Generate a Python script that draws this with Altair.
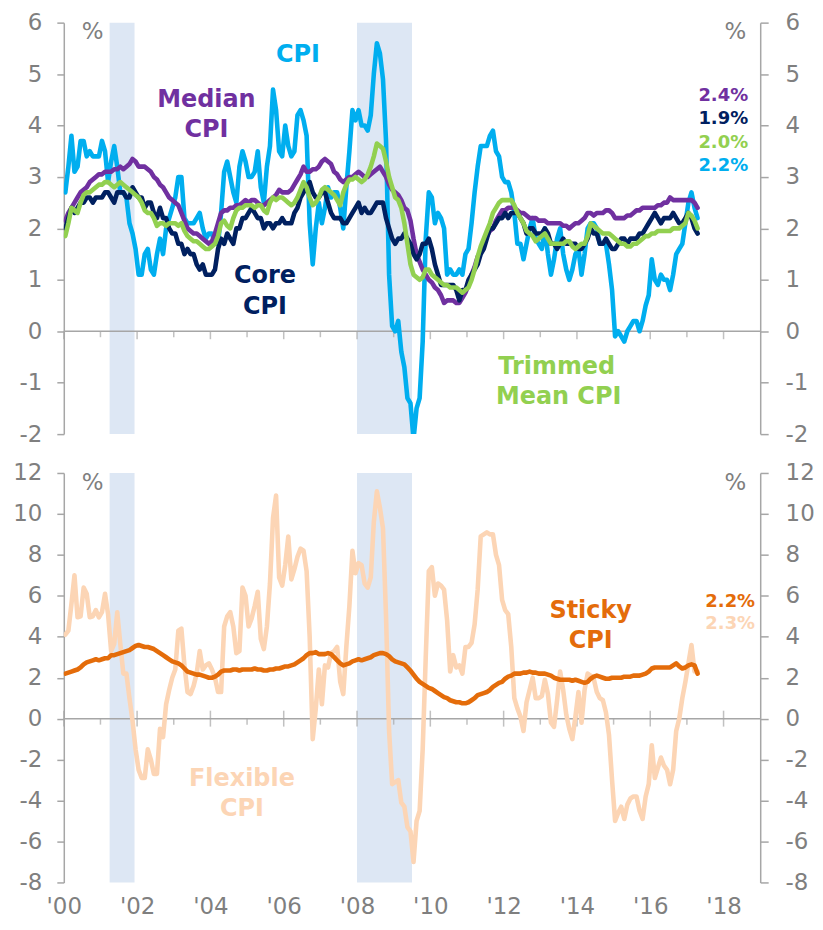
import altair as alt
import pandas as pd

# ---------------- data (monthly, Jan 2000 - Apr 2017, year-over-year %) ----------------
cpi = [
    2.7, 3.2, 3.8, 3.1, 3.2, 3.7, 3.7, 3.4, 3.5, 3.4, 3.4, 3.4,
    3.7, 3.5, 2.9, 3.3, 3.6, 3.2, 2.7, 2.7, 2.6, 2.1, 1.9, 1.6,
    1.1, 1.1, 1.5, 1.6, 1.2, 1.1, 1.5, 1.8, 1.5, 2.0, 2.2, 2.4,
    2.6, 3.0, 3.0, 2.2, 2.1, 2.1, 2.1, 2.2, 2.3, 2.0, 1.8, 1.9,
    1.9, 1.7, 1.7, 2.3, 3.1, 3.3, 3.0, 2.7, 2.5, 3.2, 3.5, 3.3,
    3.0, 3.0, 3.1, 3.5, 2.8, 2.5, 3.2, 3.6, 4.7, 4.3, 3.5, 3.4,
    4.0, 3.6, 3.4, 3.5, 4.2, 4.3, 4.1, 3.8, 2.1, 1.3, 2.0, 2.5,
    2.1, 2.4, 2.8, 2.6, 2.7, 2.7, 2.4, 2.0, 2.8, 3.5, 4.3, 4.1,
    4.3, 4.0, 4.0, 3.9, 4.2, 5.0, 5.6, 5.4, 4.9, 3.7, 1.1, 0.1,
    0.0, 0.2, -0.4, -0.7, -1.3, -1.4, -2.1, -1.5, -1.3, -0.2, 1.8, 2.7,
    2.6, 2.1, 2.3, 2.2, 2.0, 1.1, 1.2, 1.1, 1.1, 1.2, 1.1, 1.5,
    1.6, 2.1, 2.7, 3.2, 3.6, 3.6, 3.6, 3.8, 3.9, 3.5, 3.4, 3.0,
    2.9, 2.9, 2.7, 2.3, 1.7, 1.7, 1.4, 1.7, 2.0, 2.2, 1.8, 1.7,
    1.6, 2.0, 1.5, 1.1, 1.4, 1.8, 2.0, 1.5, 1.2, 1.0, 1.2, 1.5,
    1.6, 1.1, 1.5, 2.0, 2.1, 2.1, 2.0, 1.7, 1.7, 1.7, 1.3, 0.8,
    -0.1, 0.0, -0.1, -0.2, 0.0, 0.1, 0.2, 0.2, 0.0, 0.2, 0.5, 0.7,
    1.4, 1.0, 0.9, 1.1, 1.0, 1.0, 0.8, 1.1, 1.5, 1.6, 1.7, 2.1,
    2.5, 2.7, 2.4, 2.2,
]
core = [
    2.0, 2.2, 2.4, 2.3, 2.4, 2.5, 2.5, 2.6, 2.6, 2.5, 2.6, 2.6,
    2.6, 2.7, 2.7, 2.6, 2.5, 2.7, 2.7, 2.7, 2.6, 2.6, 2.8, 2.7,
    2.6, 2.6, 2.4, 2.5, 2.5, 2.3, 2.2, 2.4, 2.2, 2.2, 2.0, 1.9,
    1.9, 1.7, 1.7, 1.5, 1.6, 1.5, 1.5, 1.3, 1.2, 1.3, 1.1, 1.1,
    1.1, 1.2, 1.6, 1.8, 1.7, 1.9, 1.8, 1.7, 2.0, 2.0, 2.2, 2.2,
    2.3, 2.4, 2.3, 2.2, 2.2, 2.0, 2.1, 2.1, 2.0, 2.1, 2.1, 2.2,
    2.1, 2.1, 2.1, 2.3, 2.4, 2.6, 2.7, 2.8, 2.9, 2.7, 2.6, 2.6,
    2.7, 2.7, 2.5, 2.3, 2.2, 2.2, 2.2, 2.1, 2.1, 2.2, 2.3, 2.4,
    2.5, 2.3, 2.4, 2.3, 2.3, 2.4, 2.5, 2.5, 2.5, 2.2, 2.0, 1.8,
    1.7, 1.8, 1.8, 1.9, 1.8, 1.7, 1.5, 1.4, 1.5, 1.7, 1.7, 1.8,
    1.6, 1.3, 1.1, 0.9, 0.9, 0.9, 0.9, 0.9, 0.8, 0.6, 0.8, 0.8,
    1.0, 1.1, 1.2, 1.3, 1.5, 1.6, 1.8, 2.0, 2.0, 2.1, 2.2, 2.2,
    2.3, 2.2, 2.3, 2.3, 2.3, 2.2, 2.1, 1.9, 2.0, 2.0, 1.9, 1.9,
    1.9, 2.0, 1.9, 1.7, 1.7, 1.6, 1.7, 1.8, 1.7, 1.7, 1.7, 1.7,
    1.6, 1.6, 1.7, 1.8, 2.0, 1.9, 1.9, 1.7, 1.7, 1.8, 1.7, 1.6,
    1.6, 1.7, 1.8, 1.8, 1.7, 1.8, 1.8, 1.8, 1.9, 1.9, 2.0, 2.1,
    2.2, 2.3, 2.2, 2.1, 2.2, 2.2, 2.2, 2.3, 2.2, 2.1, 2.1, 2.2,
    2.3, 2.2, 2.0, 1.9,
]
median = [
    2.15, 2.3, 2.4, 2.5, 2.6, 2.7, 2.75, 2.8, 2.9, 2.95, 3.0, 3.05,
    3.05, 3.1, 3.1, 3.1, 3.15, 3.15, 3.2, 3.15, 3.2, 3.25, 3.35, 3.3,
    3.2, 3.2, 3.2, 3.15, 3.1, 3.0, 2.95, 2.85, 2.8, 2.7, 2.6, 2.55,
    2.5, 2.45, 2.3, 2.15, 2.0, 1.95, 1.9, 1.9, 1.85, 1.8, 1.75, 1.7,
    1.75, 1.9, 2.1, 2.3, 2.35, 2.35, 2.4, 2.4, 2.45, 2.45, 2.5, 2.55,
    2.5, 2.55, 2.55, 2.5, 2.45, 2.45, 2.5, 2.55, 2.6, 2.65, 2.75, 2.7,
    2.7, 2.7, 2.75, 2.85, 2.95, 3.05, 3.2, 3.1, 3.1, 3.15, 3.15, 3.2,
    3.3, 3.35, 3.3, 3.25, 3.1, 3.05, 2.95, 2.9, 2.95, 3.0, 3.0, 3.05,
    3.1, 3.05, 3.0, 3.0, 3.05, 3.1, 3.15, 3.2, 3.1, 3.0, 2.85, 2.75,
    2.7, 2.65, 2.55, 2.4, 2.35, 2.15, 1.8, 1.5, 1.35, 1.2, 1.1, 1.0,
    0.95, 0.85, 0.8, 0.7, 0.55, 0.6, 0.6, 0.6, 0.55, 0.55, 0.65, 0.75,
    0.9, 1.1, 1.25, 1.45, 1.55, 1.7, 1.85, 1.95, 2.0, 2.15, 2.25, 2.35,
    2.35, 2.4, 2.4, 2.4, 2.35, 2.3, 2.3, 2.25, 2.2, 2.2, 2.2, 2.15,
    2.15, 2.15, 2.1, 2.1, 2.1, 2.1, 2.1, 2.05, 2.05, 2.0, 2.05, 2.1,
    2.1, 2.15, 2.2, 2.3, 2.3, 2.25, 2.3, 2.3, 2.3, 2.35, 2.35, 2.3,
    2.2, 2.2, 2.2, 2.2, 2.25, 2.25, 2.3, 2.35, 2.35, 2.4, 2.4, 2.4,
    2.4, 2.4, 2.45, 2.45, 2.5, 2.5, 2.6, 2.55, 2.55, 2.55, 2.55, 2.55,
    2.55, 2.55, 2.5, 2.4,
]
trimmed = [
    1.85, 2.1, 2.4, 2.35, 2.3, 2.5, 2.65, 2.7, 2.7, 2.75, 2.8, 2.85,
    2.85, 2.9, 2.9, 2.85, 2.8, 2.85, 2.9, 2.85, 2.8, 2.75, 2.7, 2.65,
    2.6, 2.5, 2.35, 2.3, 2.3, 2.2, 2.05, 2.1, 2.1, 2.05, 2.1, 2.1,
    2.1, 2.05, 2.1, 1.95, 1.85, 1.8, 1.75, 1.75, 1.7, 1.65, 1.6, 1.6,
    1.65, 1.7, 1.85, 2.1, 2.15, 2.05, 2.0, 2.2, 2.35, 2.4, 2.4, 2.45,
    2.45, 2.45, 2.4, 2.45, 2.45, 2.35, 2.3, 2.5, 2.6, 2.55, 2.6, 2.6,
    2.55, 2.5, 2.45, 2.5, 2.6, 2.75, 2.9, 2.8, 2.6, 2.45, 2.5, 2.6,
    2.75, 2.8, 2.75, 2.7, 2.65, 2.55, 2.45, 2.7, 2.85, 2.95, 2.95, 3.0,
    2.95, 2.9, 2.95, 3.05, 3.2, 3.4, 3.65, 3.6, 3.55, 3.3, 3.0, 2.8,
    2.6, 2.55, 2.4, 2.1, 1.7, 1.3, 1.1, 1.05, 1.0, 1.05, 1.2, 1.2,
    1.1, 1.05, 1.0, 0.95, 0.9, 0.9, 0.85, 0.85, 0.85, 0.8, 0.75, 0.8,
    0.85, 1.0, 1.2, 1.45, 1.65, 1.8, 1.95, 2.1, 2.3, 2.4, 2.5, 2.55,
    2.55, 2.55, 2.55, 2.45, 2.3, 2.2, 2.1, 1.95, 1.9, 1.85, 1.75, 1.8,
    1.85, 1.9, 1.8, 1.7, 1.7, 1.7, 1.7, 1.7, 1.75, 1.75, 1.65, 1.6,
    1.65, 1.7, 1.7, 1.85, 2.1, 2.05, 2.0, 1.95, 1.9, 1.9, 1.9, 1.85,
    1.8, 1.75, 1.7, 1.7, 1.65, 1.65, 1.7, 1.7, 1.75, 1.8, 1.85, 1.85,
    1.9, 1.9, 1.95, 1.95, 1.95, 1.95, 1.95, 2.0, 2.0, 2.0, 2.05, 2.1,
    2.3, 2.25, 2.15, 2.0,
]
sticky = [
    2.2, 2.25, 2.3, 2.35, 2.4, 2.5, 2.65, 2.75, 2.8, 2.85, 2.9, 2.85,
    2.9, 2.95, 2.95, 3.1, 3.1, 3.15, 3.2, 3.25, 3.3, 3.35, 3.45, 3.55,
    3.6, 3.55, 3.5, 3.5, 3.45, 3.4, 3.3, 3.2, 3.1, 3.0, 2.9, 2.8,
    2.75, 2.7, 2.6, 2.45, 2.3, 2.25, 2.2, 2.15, 2.15, 2.1, 2.05, 2.0,
    2.0, 2.05, 2.15, 2.3, 2.35, 2.35, 2.35, 2.4, 2.4, 2.35, 2.4, 2.4,
    2.4, 2.4, 2.45, 2.4, 2.4, 2.35, 2.35, 2.4, 2.4, 2.45, 2.45, 2.5,
    2.55, 2.55, 2.6, 2.65, 2.75, 2.85, 2.95, 3.1, 3.2, 3.2, 3.25, 3.15,
    3.15, 3.15, 3.2, 3.15, 3.0, 2.85, 2.7, 2.6, 2.65, 2.7, 2.8, 2.85,
    2.9, 2.85, 2.9, 2.95, 3.0, 3.1, 3.15, 3.2, 3.2, 3.15, 3.05, 2.9,
    2.8, 2.75, 2.7, 2.65, 2.5, 2.35, 2.15, 1.95, 1.8, 1.7, 1.6, 1.5,
    1.45, 1.35, 1.25, 1.15, 1.05, 1.0, 0.9, 0.85, 0.8, 0.8, 0.75, 0.75,
    0.8, 0.9, 1.0, 1.15, 1.2, 1.25, 1.3, 1.4, 1.55, 1.65, 1.75, 1.8,
    1.95, 2.05, 2.1, 2.2, 2.2, 2.2, 2.25, 2.25, 2.3, 2.25, 2.25, 2.2,
    2.2, 2.2, 2.15, 2.1, 2.0, 1.95, 1.9, 1.9, 1.9, 1.9, 1.85, 1.9,
    1.85, 1.8, 1.75, 1.8, 1.95, 2.05, 2.1, 2.05, 2.0, 1.95, 1.95, 2.0,
    2.0, 2.0, 2.0, 2.05, 2.05, 2.05, 2.1, 2.1, 2.1, 2.15, 2.2, 2.3,
    2.45, 2.5, 2.5, 2.5, 2.5, 2.5, 2.5, 2.6, 2.7, 2.55, 2.45, 2.5,
    2.6, 2.65, 2.6, 2.2,
]
flexible = [
    4.1, 4.3, 5.6, 7.0, 4.95, 5.0, 6.4, 6.1, 4.95, 5.0, 5.3, 4.95,
    5.2, 6.1, 5.1, 3.3, 3.65, 5.2, 3.65, 2.2, 2.2, 1.0, -0.1, -1.5,
    -2.5, -2.9, -2.9, -1.5, -2.0, -2.7, -2.7, -0.5, -0.9, 0.7, 1.4, 2.0,
    2.4, 4.3, 4.4, 2.6, 1.3, 1.2, 1.6, 2.2, 3.3, 2.4, 2.6, 2.7,
    2.4, 2.0, 1.3, 1.3, 4.5, 5.0, 5.2, 4.5, 3.2, 3.3, 6.4, 6.0,
    4.5, 4.9, 5.5, 6.2, 3.9, 3.4, 4.5, 6.6, 9.8, 10.9, 6.9, 6.5,
    7.5, 8.9, 6.8, 7.3, 7.9, 8.3, 8.2, 7.2, 4.0, -1.0, 0.5, 2.4,
    0.7, 2.6, 2.5, 3.2, 3.3, 3.5, 1.8, 1.2, 3.5, 5.5, 8.2, 7.1,
    7.6, 7.5, 6.6, 6.4, 6.9, 9.6, 11.1, 10.3, 9.3, 5.0, -0.6, -3.2,
    -3.1, -3.0, -4.1, -4.3, -5.3, -5.5, -7.0, -5.0, -4.5, -1.5, 3.0, 7.2,
    7.4, 6.0, 6.6, 6.5, 6.3, 4.8, 2.3, 3.1, 2.5, 2.6, 2.2, 3.5,
    3.5, 3.7, 4.6, 6.3, 8.9, 9.0, 9.1, 9.0, 9.0, 8.0, 7.5, 5.8,
    5.3, 5.1, 3.5, 1.0, 0.5, 0.1, -0.6, 0.8, 1.4, 2.0, 1.0, 1.0,
    1.1, 1.9, 1.2, -0.2, -0.4, 0.9, 2.3, 1.4, 0.2, -0.5, -1.0, 0.1,
    1.3, -0.2, 1.4, 2.2, 2.1, 1.95, 1.3, 1.0, 0.9, 0.3, -0.8, -3.0,
    -5.0, -4.6, -4.3, -4.9, -4.2, -3.9, -3.8, -3.8, -4.5, -4.9, -3.8, -3.2,
    -1.3, -2.9, -2.4, -1.9, -2.3, -2.5, -3.2, -2.5, -0.6, 0.0, 1.0, 1.8,
    2.7, 3.6, 2.3, 2.3,
]

rec_start = [2001.25, 2008.0]
rec_end = [2001.93, 2009.5]
even_years = list(range(2000, 2019, 2))
odd_years = list(range(2001, 2018, 2))

# ---------------- styling ----------------
FONT = "DejaVu Sans"
GREY_LINE = "#A6A6A6"
GREY_TEXT = "#7F7F7F"
C_CPI = "#00AEEF"
C_MED = "#7030A0"
C_CORE = "#002060"
C_TRIM = "#92D050"
C_STICKY = "#E46C0A"
C_FLEX = "#FCD5B5"
C_REC = "#DDE7F4"
LW = 4.6

W = 699
H_TOP = 413
H_BOT = 411

xs = alt.Scale(domain=[2000, 2019], nice=False, zero=False)


def monthly(values):
    return pd.DataFrame({"t": [2000 + (i + 0.5) / 12 for i in range(len(values))], "v": values})


def y_axis(orient, vals):
    common = dict(values=vals, title=None, grid=False, labelExpr="toString(datum.value)")
    if orient == "left":
        return alt.Axis(orient="left", tickSize=7, labelPadding=15, **common)
    return alt.Axis(orient="right", tickSize=8, labelPadding=17, **common)


def make_panel(ys, cross_major, x_axis):
    def Xq(field):
        return alt.X(field, type="quantitative", scale=xs, axis=x_axis)

    def Yq(field, axis=None):
        return alt.Y(field, type="quantitative", scale=ys, axis=axis)

    def base_layers():
        rec = alt.Chart(pd.DataFrame({"s": rec_start, "e": rec_end})).mark_rect(color=C_REC).encode(
            x=Xq("s"), x2="e"
        )
        zero = alt.Chart(pd.DataFrame({"z": [0]})).mark_rule(color=GREY_LINE, strokeWidth=1.5).encode(
            y=Yq("z")
        )
        maj = alt.Chart(pd.DataFrame({"yr": even_years, "z": [0] * len(even_years)})).mark_tick(
            orient="vertical", size=16 if cross_major else 8, thickness=1.5,
            yOffset=0 if cross_major else 4, color=GREY_LINE
        ).encode(x=Xq("yr"), y=Yq("z"))
        mnr = alt.Chart(pd.DataFrame({"yr": odd_years, "z": [0] * len(odd_years)})).mark_tick(
            orient="vertical", size=6, thickness=1.5, yOffset=3, color=GREY_LINE
        ).encode(x=Xq("yr"), y=Yq("z"))
        return [rec, zero, maj, mnr]

    def line(values, color, axis=None):
        return alt.Chart(monthly(values)).mark_line(
            color=color, strokeWidth=LW, clip=True, strokeJoin="round", strokeCap="round"
        ).encode(x=Xq("t"), y=Yq("v", axis))

    def texts(txt, xv, yv, color, size=24, bold=True, align="center"):
        df = pd.DataFrame({"text": txt, "x": xv, "y": yv})
        return alt.Chart(df).mark_text(
            font=FONT, fontSize=size, fontWeight="bold" if bold else "normal",
            color=color, align=align, baseline="middle"
        ).encode(x=Xq("x"), y=Yq("y"), text="text:N")

    return base_layers, line, texts


# ---------------- top panel ----------------
ys_top = alt.Scale(domain=[-2, 6], nice=False, zero=False)
top_vals = list(range(-2, 7))
base_t, line_t, text_t = make_panel(ys_top, False, None)

top = alt.layer(
    *base_t(),
    line_t(cpi, C_CPI, y_axis("left", top_vals)),
    line_t(median, C_MED, y_axis("right", top_vals)),
    line_t(core, C_CORE),
    line_t(trimmed, C_TRIM),
    text_t(["CPI"], [2006.39], [5.37], C_CPI),
    text_t(["Median", "CPI"], [2003.89, 2003.89], [4.50, 3.91], C_MED),
    text_t(["Core", "CPI"], [2005.49, 2005.49], [1.07, 0.48], C_CORE),
    text_t(["Trimmed", "Mean CPI"], [2013.45, 2013.5], [-0.70, -1.28], C_TRIM),
    text_t(["2.4%"], [2018.67], [4.57], C_MED, size=18, align="right"),
    text_t(["1.9%"], [2018.67], [4.13], C_CORE, size=18, align="right"),
    text_t(["2.0%"], [2018.67], [3.66], C_TRIM, size=18, align="right"),
    text_t(["2.2%"], [2018.67], [3.22], C_CPI, size=18, align="right"),
    text_t(["%", "%"], [2000.79, 2018.32], [5.81, 5.81], GREY_TEXT, size=23, bold=False),
).resolve_axis(y="independent").properties(width=W, height=H_TOP)

# ---------------- bottom panel ----------------
ys_bot = alt.Scale(domain=[-8, 12], nice=False, zero=False)
bot_vals = list(range(-8, 13, 2))

x_axis = alt.Axis(
    orient="bottom", values=even_years,
    labelExpr="\"'\" + format(datum.value % 100, '02d')",
    domain=False, ticks=False, labelPadding=13, labelFlush=False, labelOverlap=False,
    title=None, grid=False,
)
base_b, line_b, text_b = make_panel(ys_bot, True, x_axis)

bot = alt.layer(
    *base_b(),
    line_b(flexible, C_FLEX, y_axis("left", bot_vals)),
    line_b(sticky, C_STICKY, y_axis("right", bot_vals)),
    text_b(["Sticky", "CPI"], [2014.375, 2014.375], [5.26, 3.80], C_STICKY),
    text_b(["Flexible", "CPI"], [2004.86, 2004.86], [-2.97, -4.43], C_FLEX),
    text_b(["2.2%"], [2018.86], [5.69], C_STICKY, size=18, align="right"),
    text_b(["2.3%"], [2018.86], [4.62], C_FLEX, size=18, align="right"),
    text_b(["%", "%"], [2000.79, 2018.32], [11.53, 11.53], GREY_TEXT, size=23, bold=False),
).resolve_axis(y="independent").properties(width=W, height=H_BOT)

chart = alt.vconcat(top, bot, spacing=39, bounds="flush").properties(
    padding={"left": 4, "top": 2, "right": 0, "bottom": 0}
).configure_view(stroke=None).configure_axis(
    labelFont=FONT, labelFontSize=23, labelColor=GREY_TEXT,
    domainColor=GREY_LINE, tickColor=GREY_LINE, domainWidth=1.5, tickWidth=1.5, grid=False,
)

chart.save("out.html", embed_options={"renderer": "svg", "actions": False})
